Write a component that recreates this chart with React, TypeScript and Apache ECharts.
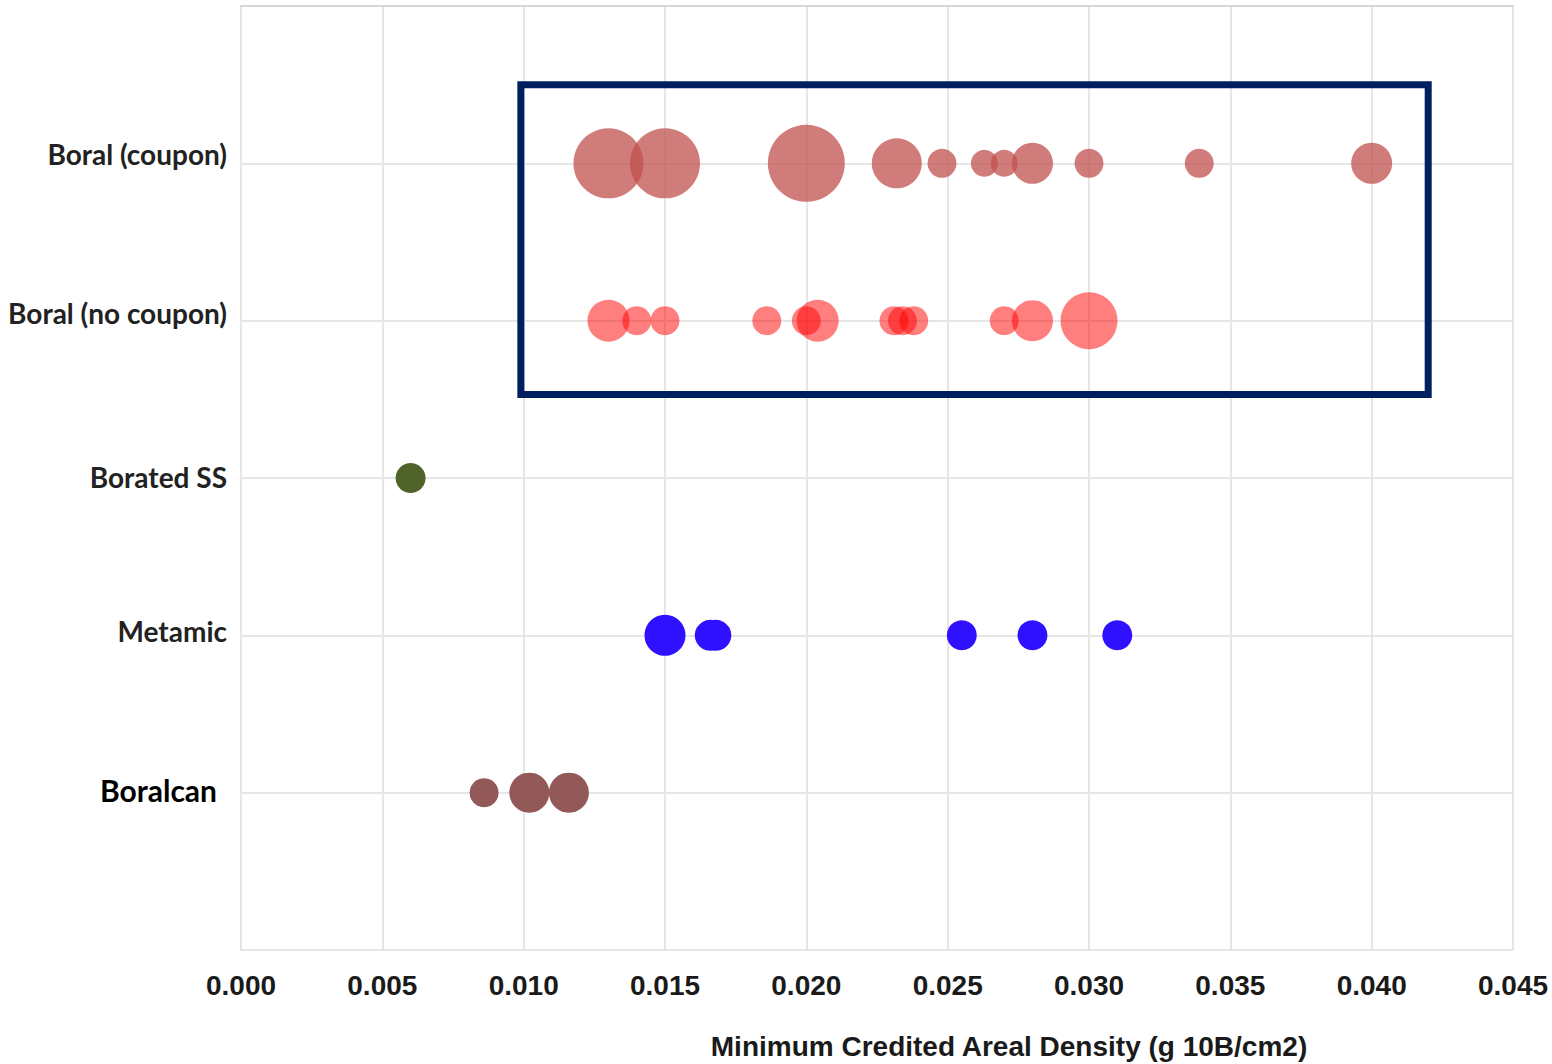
import React, { useEffect, useRef } from "react";
import * as echarts from "echarts";

// Categories from top (1) to bottom (5)
const categories = ["", "Boral (coupon)", "Boral (no coupon)", "Borated SS", "Metamic", "Boralcan", ""];

const xTicks = { min: 0, max: 0.045, interval: 0.005 };

// [x value, bubble diameter]
const boralCoupon: [number, number][] = [
  [0.013, 70], [0.015, 70], [0.02, 77], [0.0232, 50], [0.0248, 29], [0.0263, 27],
  [0.027, 27], [0.028, 41], [0.03, 29], [0.0339, 29], [0.04, 41],
];
const boralNoCoupon: [number, number][] = [
  [0.013, 42], [0.014, 29], [0.015, 29], [0.0186, 29], [0.02, 29], [0.0204, 42],
  [0.0231, 29], [0.0234, 29], [0.0238, 29], [0.027, 29], [0.028, 41], [0.03, 57],
];
const boratedSS: [number, number][] = [[0.006, 30]];
const metamic: [number, number][] = [
  [0.015, 41], [0.0166, 31], [0.0168, 31], [0.0255, 30], [0.028, 30], [0.031, 30],
];
const boralcan: [number, number][] = [[0.0086, 29], [0.0102, 40], [0.0116, 40]];

// Highlight box (data coordinates)
const boxFrom = [0.0099, 0.5];
const boxTo = [0.042, 2.47];

const rowColors = [
  "rgba(192,80,77,0.75)",
  "rgba(255,0,0,0.5)",
  "#4F6228",
  "#3011FF",
  "#935858",
];

// label lift above its grid line (px), per category row
const labelLift = [0, 9, 8, 1, 4, 3, 0];

const App: React.FC = () => {
  const ref = useRef<HTMLDivElement>(null);

  useEffect(() => {
    if (!ref.current) return;
    const chart = echarts.init(ref.current, undefined, { renderer: "svg" });
    const rows = [boralCoupon, boralNoCoupon, boratedSS, metamic, boralcan];
    const series: any[] = rows.map((row, i) => ({
      type: "scatter",
      name: categories[i + 1],
      data: row.map(([x, d]) => [x, i + 1, d]),
      symbolSize: (v: number[]) => v[2],
      itemStyle: { color: rowColors[i], opacity: 1 },
      emphasis: { disabled: true },
      z: 3,
    }));
    series[0].markArea = {
      silent: true,
      itemStyle: {
        color: "rgba(0,0,0,0)",
        borderColor: "#001F5F",
        borderWidth: 7,
        borderRadius: 3,
      },
      data: [[{ coord: boxFrom }, { coord: boxTo }]],
    };

    const rich: any = {};
    categories.forEach((name, i) => {
      if (!name) return;
      const big = name === "Boralcan";
      rich["c" + i] = {
        fontFamily: "Lato",
        fontWeight: "bold",
        fontSize: big ? 30 : 28,
        color: big ? "#000000" : "#222222",
        padding: [0, big ? 10 : 0, labelLift[i] * 2, 0],
      };
    });

    chart.setOption({
      animation: false,
      backgroundColor: "#ffffff",
      grid: {
        left: 241,
        right: 39,
        top: 6,
        bottom: 114,
        containLabel: false,
        outerBoundsMode: "none",
      },
      xAxis: {
        type: "value",
        min: xTicks.min,
        max: xTicks.max,
        interval: xTicks.interval,
        name: "Minimum Credited Areal Density (g 10B/cm2)",
        nameLocation: "middle",
        nameGap: 82,
        nameTextStyle: {
          fontFamily: "Liberation Sans",
          fontWeight: "bold",
          fontSize: 28,
          color: "#1a1a1a",
          padding: [0, 0, 0, 264],
        },
        axisLine: { show: true, lineStyle: { color: "#d6d6d6", width: 2 } },
        axisTick: { show: false },
        axisLabel: {
          margin: 21,
          fontFamily: "Liberation Sans",
          fontWeight: "bold",
          fontSize: 28,
          color: "#1a1a1a",
          formatter: (v: number) => v.toFixed(3),
        },
        splitLine: { show: true, lineStyle: { color: "#e6e6e6", width: 2 } },
      },
      yAxis: {
        type: "value",
        min: 0,
        max: 6,
        interval: 1,
        inverse: true,
        axisLine: { show: true, lineStyle: { color: "#e6e6e6", width: 2 } },
        axisTick: { show: false },
        axisLabel: {
          margin: 14,
          formatter: (v: number) => {
            const i = Math.round(v);
            const name = categories[i] || "";
            if (!name) return "";
            return `{c${i}|${name}}`;
          },
          rich,
        },
        splitLine: { show: true, lineStyle: { color: "#e6e6e6", width: 2 } },
      },
      series,
    });
    return () => chart.dispose();
  }, []);

  return (
    <div
      ref={ref}
      style={{ position: "absolute", left: 0, top: 0, width: 1552, height: 1064 }}
    />
  );
};

export default App;
